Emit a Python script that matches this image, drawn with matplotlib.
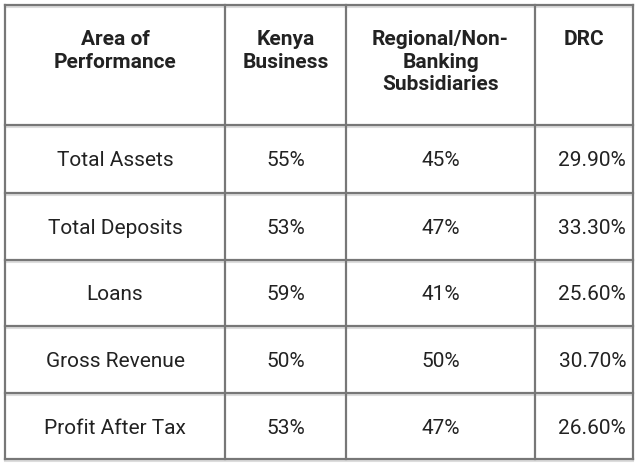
import matplotlib
matplotlib.use("Agg")
import matplotlib.pyplot as plt
from matplotlib.lines import Line2D

headers = ["Area of\nPerformance", "Kenya\nBusiness", "Regional/Non-\nBanking\nSubsidiaries", "DRC"]
areas = ["Total Assets", "Total Deposits", "Loans", "Gross Revenue", "Profit After Tax"]
kenya = ["55%", "53%", "59%", "50%", "53%"]
regional = ["45%", "47%", "41%", "50%", "47%"]
drc = ["29.90%", "33.30%", "25.60%", "30.70%", "26.60%"]

W, H = 637, 463
fig = plt.figure(figsize=(W/100, H/100), dpi=100)
ax = fig.add_axes([0, 0, 1, 1])
ax.set_xlim(0, W); ax.set_ylim(H, 0); ax.axis("off")

xs = [5, 225, 346, 535, 633]
ys = [5, 125, 193, 260, 326, 393, 459]
lc = "#777777"
for y in ys:
    ax.add_line(Line2D([xs[0], xs[-1]], [y+2, y+2], color="#dddddd", lw=1.5))
    ax.add_line(Line2D([xs[0], xs[-1]], [y, y], color=lc, lw=1.6))
for x in xs:
    ax.add_line(Line2D([x, x], [ys[0], ys[-1]], color=lc, lw=1.6))

font = "Roboto"
for i, h in enumerate(headers):
    cx = (xs[i] + xs[i+1]) / 2
    ax.text(cx, 30, h, ha="center", va="top", fontsize=15, fontweight="bold",
            family=font, color="#222222", linespacing=1.25)

cols = [areas, kenya, regional, drc]
for r in range(len(areas)):
    cy = (ys[r+1] + ys[r+2]) / 2 + 2
    for c, col in enumerate(cols):
        if c == 3:
            ax.text(xs[4] - 7, cy, col[r], ha="right", va="center", fontsize=15,
                    family=font, color="#222222")
        else:
            cx = (xs[c] + xs[c+1]) / 2
            ax.text(cx, cy, col[r], ha="center", va="center", fontsize=15,
                    family=font, color="#222222")

fig.savefig("out.png", dpi=100, facecolor="white")
